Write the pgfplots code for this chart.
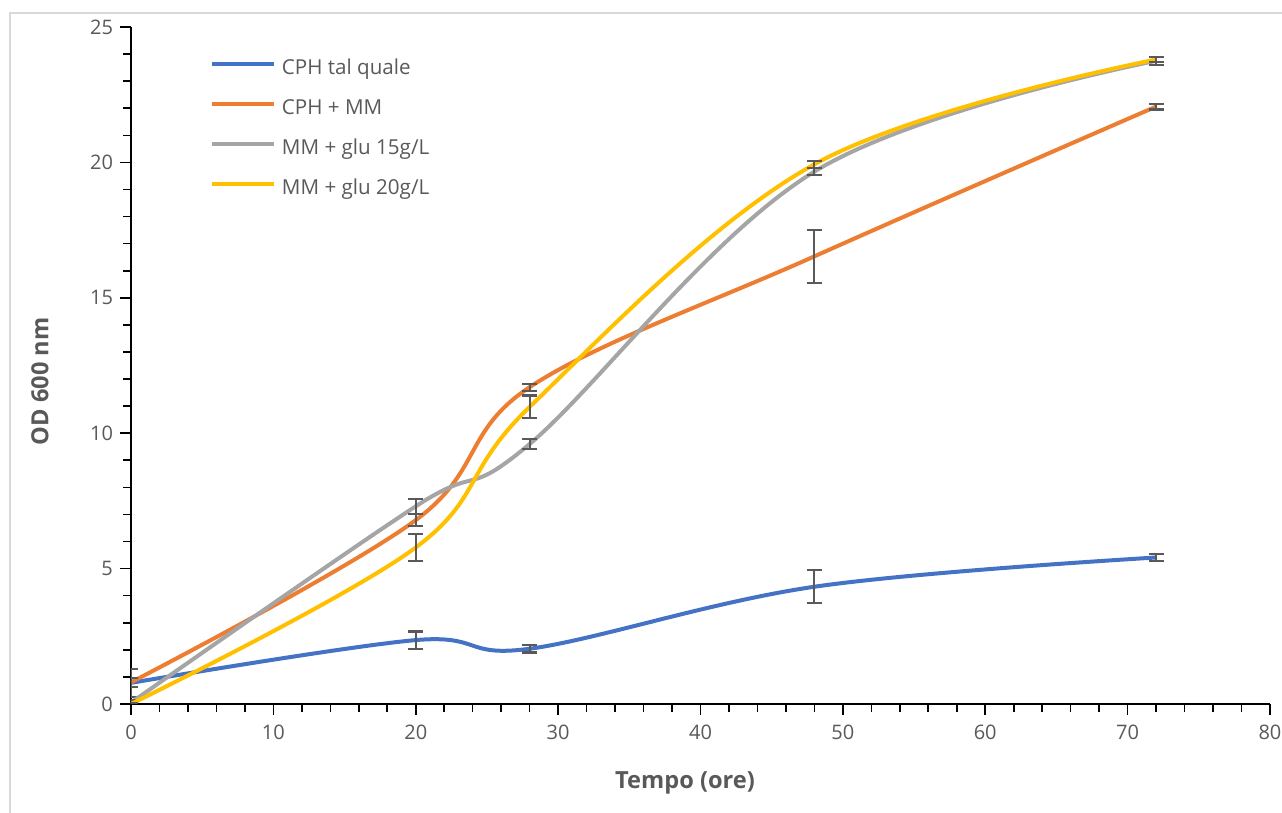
\documentclass[border=0pt]{standalone}
\usepackage{pgfplots}
\usepackage{pgfplotstable}
\pgfplotsset{compat=1.18}
\usepackage{fontspec}
\setmainfont{Open Sans}

\definecolor{cblue}{HTML}{4472C4}
\definecolor{corange}{HTML}{ED7D31}
\definecolor{cgray}{HTML}{A5A5A5}
\definecolor{cyellow}{HTML}{FFC000}
\definecolor{txtgray}{HTML}{595959}
\definecolor{errgray}{HTML}{595959}
\definecolor{bordergray}{HTML}{D9D9D9}

% tempo (ore), OD 600, deviazione
\pgfplotstableread{
x  y     e
0  0.78  0.52
20 2.36  0.32
28 2.04  0.14
48 4.33  0.61
72 5.41  0.14
}\tabcph
\pgfplotstableread{
x  y     e
0  0.80  0.17
20 6.79  0.23
28 11.70 0.13
48 16.53 0.97
72 22.06 0.11
}\tabcphmm
\pgfplotstableread{
x  y     e
0  0.05  0.08
20 7.30  0.28
28 9.60  0.18
48 19.66 0.13
72 23.75 0.15
}\tabglua
\pgfplotstableread{
x  y     e
0  0.00  0.03
20 5.78  0.50
28 10.97 0.42
48 19.93 0.13
72 23.80 0.10
}\tabglub

\begin{document}
\begin{tikzpicture}
\path[use as bounding box] (-65.5pt,-54.5pt) rectangle (575.5pt,352pt);
\draw[bordergray, line width=0.8pt] (-60.5pt,-70pt) -- (-60.5pt,345.5pt) -- (600pt,345.5pt);
\begin{axis}[
    at={(0pt,0pt)}, anchor=south west,
    scale only axis,
    width=569.5pt, height=338.5pt,
    xmin=0, xmax=80, ymin=0, ymax=25,
    axis x line*=bottom, axis y line*=left,
    xtick={0,10,...,80}, minor x tick num=4,
    ytick={0,5,...,25}, minor y tick num=4,
    tick align=outside,
    major tick length=5.5pt, minor tick length=3.8pt,
    every tick/.style={black, line width=0.8pt},
    axis line style={black, line width=0.8pt},
    tick label style={font=\fontsize{10}{12}\selectfont, text=txtgray},
    xticklabel style={yshift=-1.5pt},
    /pgf/number format/assume math mode=true,
    xlabel={Tempo (ore)},
    ylabel={OD 600 nm},
    label style={font=\fontsize{11.8}{14}\selectfont\bfseries, text=txtgray},
    xlabel style={at={(axis description cs:0.4864,-0.1167)}, anchor=center},
    ylabel style={at={(axis description cs:-0.0799,0.4764)}, anchor=center, rotate=0},
    legend style={
        draw=none, fill=none,
        at={(axis description cs:0.069,0.952)}, anchor=north west,
        inner sep=0pt,
        font=\fontsize{10.3}{12}\selectfont,
        text=txtgray,
        row sep=10.5pt,
        nodes={inner sep=0pt, text height=7.5pt, text depth=2pt},
    },
    legend cell align=left,
    legend image code/.code={\draw[#1, line width=2pt] (0pt,2.5pt) -- (31pt,2.5pt);},
    legend style={/tikz/every odd column/.append style={column sep=3pt}},
]

\addplot[cblue, line width=2pt, smooth, tension=0.6,
    error bars/.cd, y dir=both, y explicit,
    error bar style={errgray, line width=1pt},
    error mark options={errgray, rotate=90, mark size=3.75pt, line width=1.1pt}]
    table[x=x, y=y, y error=e] {\tabcph};
\addlegendentry{CPH tal quale}

\addplot[corange, line width=2pt, smooth, tension=0.6,
    error bars/.cd, y dir=both, y explicit,
    error bar style={errgray, line width=1pt},
    error mark options={errgray, rotate=90, mark size=3.75pt, line width=1.1pt}]
    table[x=x, y=y, y error=e] {\tabcphmm};
\addlegendentry{CPH + MM}

\addplot[cgray, line width=2pt, smooth, tension=0.6,
    error bars/.cd, y dir=both, y explicit,
    error bar style={errgray, line width=1pt},
    error mark options={errgray, rotate=90, mark size=3.75pt, line width=1.1pt}]
    table[x=x, y=y, y error=e] {\tabglua};
\addlegendentry{MM + glu 15g/L}

\addplot[cyellow, line width=2pt, smooth, tension=0.6,
    error bars/.cd, y dir=both, y explicit,
    error bar style={errgray, line width=1pt},
    error mark options={errgray, rotate=90, mark size=3.75pt, line width=1.1pt}]
    table[x=x, y=y, y error=e] {\tabglub};
\addlegendentry{MM + glu 20g/L}

\end{axis}
\end{tikzpicture}
\end{document}
